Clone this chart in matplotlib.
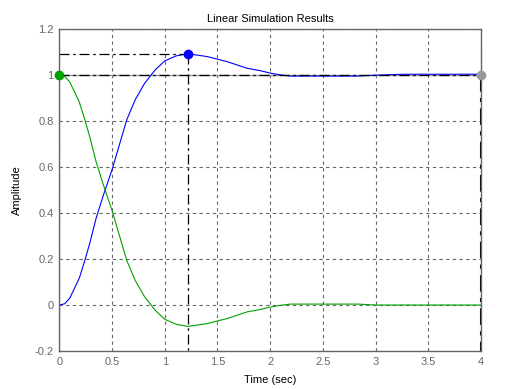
import matplotlib.pyplot as plt
import numpy as np

plt.rcParams['font.family'] = ['Liberation Sans', 'DejaVu Sans']

# time samples (sec)
t = [0, 0.05, 0.10, 0.19, 0.24, 0.29, 0.35, 0.42, 0.50, 0.64, 0.72, 0.81,
     0.91, 1.00, 1.11, 1.22, 1.40, 1.59, 1.78, 1.90, 2.00, 2.07, 2.19,
     2.50, 2.83, 3.00, 3.28, 3.60, 4.00]
blue = [0, 0.005, 0.03, 0.117, 0.19, 0.27, 0.378, 0.48, 0.588, 0.806, 0.893,
        0.965, 1.023, 1.062, 1.084, 1.093, 1.081, 1.059, 1.03, 1.02, 1.009,
        1.003, 0.996, 0.996, 0.996, 1.0, 1.004, 1.004, 1.004]
green = [1, 0.995, 0.97, 0.883, 0.81, 0.73, 0.622, 0.52, 0.412, 0.194, 0.107,
         0.035, -0.023, -0.062, -0.084, -0.093, -0.081, -0.059, -0.03, -0.02,
         -0.009, -0.003, 0.004, 0.004, 0.004, 0.0, 0.0, 0.0, 0.0]
u_t = [0, 4]
u = [1, 1]

peak_t, peak_y = 1.22, 1.093

fig = plt.figure(figsize=(5.13, 3.89), dpi=100)
ax = fig.add_axes([0.1155, 0.0977, 0.8225, 0.8273])

dashdot = (0, (8, 3, 2, 3))
ax.plot(u_t, u, color='#999999', lw=1)
ax.plot(t, blue, color='#0000ff', lw=0.8)
ax.plot(t, green, color='#00a000', lw=0.8)

# characteristic lines
ax.plot([0, peak_t], [peak_y, peak_y], color='k', lw=0.9, ls=dashdot)
ax.plot([peak_t, peak_t], [peak_y, -0.2], color='k', lw=0.9, ls=dashdot)
ax.plot([0, 4], [1, 1], color='k', lw=0.9, ls=dashdot)
ax.plot([0, 0], [1, -0.2], color='k', lw=1.5, ls=dashdot)
ax.plot([4, 4], [1, -0.2], color='k', lw=1.5, ls=dashdot)

ax.plot(peak_t, peak_y, 'o', color='#0000ff', ms=6, clip_on=False, zorder=5)
ax.plot(0, 1, 'o', color='#00a000', ms=6, clip_on=False, zorder=5)
ax.plot(4, 1, 'o', color='#999999', ms=6, clip_on=False, zorder=5)

ax.set_xlim(0, 4)
ax.set_ylim(-0.2, 1.2)
ax.set_xticks(np.arange(0, 4.01, 0.5))
ax.set_xticklabels(['0', '0.5', '1', '1.5', '2', '2.5', '3', '3.5', '4'])
ax.set_yticks(np.arange(-0.2, 1.21, 0.2))
ax.set_yticklabels(['-0.2', '0', '0.2', '0.4', '0.6', '0.8', '1', '1.2'])
ax.grid(True, color='#666666', ls=(0, (3, 3)), lw=0.8)
ax.tick_params(length=0, labelsize=8, labelcolor='#666666', pad=4)
for s in ax.spines.values():
    s.set_color('#666666')
    s.set_linewidth(1)

ax.set_title('Linear Simulation Results', fontsize=8, pad=5)
ax.set_xlabel('Time (sec)', fontsize=8, labelpad=6)
ax.set_ylabel('Amplitude', fontsize=8, labelpad=9)

fig.savefig('out.png', dpi=100, facecolor='white')
